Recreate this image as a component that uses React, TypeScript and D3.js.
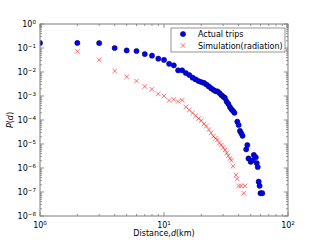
import React from "react";
import * as d3 from "d3";

const blueD = [1,2,3,4,5,6,7,8,9,10,11,12,13,14,15,16,17,18,19,20,21,22,23,24,25,26,27,28,29,30,31,32,33,34,35,36,37,39,40,41,42,43,46,47,48,50,52,53,55,56,57,58,59,60,62];
const blueP = [0.162,0.162,0.16,0.1,0.079,0.075,0.056,0.048,0.036,0.032,0.022,0.019,0.0117,0.0117,0.0091,0.0075,0.0058,0.0049,0.0042,0.0038,0.0035,0.003,0.0025,0.0021,0.0018,0.0016,0.00155,0.00133,0.0011,0.00095,0.00083,0.00059,0.00047,0.00035,0.00028,0.00024,0.0002,8.5e-5,6.2e-5,3.5e-5,2.8e-5,2.2e-5,6.0e-6,9.1e-6,2.5e-6,1.8e-6,2.1e-6,3.5e-6,2.8e-6,1.6e-6,1.1e-6,2.7e-7,1.8e-7,8.9e-8,8.9e-8];

const redD = [1,2,3,4,5,6,7,8,9,10,11,12,13,14,15,16,17,18,19,20,21,22,23,24,25,26,27,28,29,30,31,32,33,34,35,36,38,39,40,42,44,45];
const redP = [0.91,0.072,0.032,0.011,0.0063,0.0042,0.0025,0.0019,0.00123,0.001,0.00065,0.00072,0.00059,0.00066,0.00035,0.00026,0.000195,0.000148,0.000115,9.5e-5,6.8e-5,5.6e-5,4.0e-5,2.9e-5,2.1e-5,1.74e-5,1.48e-5,1.1e-5,9.1e-6,7.2e-6,5.6e-6,4.2e-6,3.3e-6,2.5e-6,2.1e-6,1.2e-6,5.1e-7,3.5e-7,1.8e-7,1.8e-7,8.9e-8,1.8e-7];

const xTickExps = [0, 1, 2];
const yTickExps = [0, -1, -2, -3, -4, -5, -6, -7, -8];
const seriesNames = ["Actual trips", "Simulation(radiation)"];

const L = 40, R = 288, T = 24, B = 216;
const FONT = "DejaVu Sans, sans-serif";

function sup(e: number) {
  return e < 0 ? "\u2212" + Math.abs(e) : String(e);
}

export default function App() {
  const x = d3.scaleLog().domain([1, 100]).range([L, R]);
  const y = d3.scaleLog().domain([1e-8, 1]).range([B, T]);

  const xMinor: number[] = [];
  for (let k = 0; k < 2; k++) for (let m = 2; m <= 9; m++) xMinor.push(m * Math.pow(10, k));
  const yMinor: number[] = [];
  for (let k = -8; k < 0; k++) for (let m = 2; m <= 9; m++) yMinor.push(m * Math.pow(10, k));

  const frame = "#7a7a7a";
  const cross = (cx: number, cy: number, s: number, key: any) => (
    <path key={key} d={`M${cx - s},${cy - s}L${cx + s},${cy + s}M${cx - s},${cy + s}L${cx + s},${cy - s}`}
      stroke="#ff0000" strokeOpacity={0.55} strokeWidth={1} fill="none" />
  );

  return (
    <svg width={320} height={240} style={{ position: "absolute", left: 0, top: 0, background: "#fff" }}
      fontFamily={FONT}>
      <defs>
        <clipPath id="ax">
          <rect x={L} y={T} width={R - L} height={B - T} />
        </clipPath>
      </defs>
      <rect x={0} y={0} width={320} height={240} fill="#fff" />
      <g clipPath="url(#ax)">
        {blueD.map((d, i) => (
          <circle key={"b" + i} cx={x(d)} cy={y(blueP[i])} r={2.6} fill="#0000ff" stroke="#000033" strokeWidth={0.5} />
        ))}
        {redD.map((d, i) => cross(x(d), y(redP[i]), 2.3, "r" + i))}
      </g>
      {/* ticks */}
      <g stroke={frame} strokeWidth={0.8}>
        {xTickExps.map((e) => {
          const px = x(Math.pow(10, e));
          return (
            <g key={"xt" + e}>
              <line x1={px} x2={px} y1={B} y2={B - 4} />
              <line x1={px} x2={px} y1={T} y2={T + 4} />
            </g>
          );
        })}
        {xMinor.map((v, i) => {
          const px = x(v);
          return (
            <g key={"xm" + i}>
              <line x1={px} x2={px} y1={B} y2={B - 2} />
              <line x1={px} x2={px} y1={T} y2={T + 2} />
            </g>
          );
        })}
        {yTickExps.map((e) => {
          const py = y(Math.pow(10, e));
          return (
            <g key={"yt" + e}>
              <line x1={L} x2={L + 4} y1={py} y2={py} />
              <line x1={R} x2={R - 4} y1={py} y2={py} />
            </g>
          );
        })}
        {yMinor.map((v, i) => {
          const py = y(v);
          return (
            <g key={"ym" + i}>
              <line x1={L} x2={L + 2} y1={py} y2={py} />
              <line x1={R} x2={R - 2} y1={py} y2={py} />
            </g>
          );
        })}
      </g>
      <rect x={L} y={T} width={R - L} height={B - T} fill="none" stroke={frame} strokeWidth={1} />
      {/* tick labels */}
      {xTickExps.map((e) => (
        <text key={"xl" + e} x={x(Math.pow(10, e))} y={B + 12} fontSize={8} textAnchor="middle" fill="#000">
          <tspan>10</tspan>
          <tspan dy={-3.5} fontSize={5.6}>{sup(e)}</tspan>
        </text>
      ))}
      {yTickExps.map((e) => (
        <text key={"yl" + e} x={L - 4} y={y(Math.pow(10, e)) + 3} fontSize={8} textAnchor="end" fill="#000">
          <tspan>10</tspan>
          <tspan dy={-3.5} fontSize={5.6}>{sup(e)}</tspan>
        </text>
      ))}
      {/* axis labels */}
      <text x={(L + R) / 2} y={236} fontSize={8} textAnchor="middle" fill="#000">
        Distance,<tspan fontStyle="italic">d</tspan>(km)
      </text>
      <text transform={`translate(13,${(T + B) / 2}) rotate(-90)`} fontSize={8} textAnchor="middle" fill="#000">
        <tspan fontStyle="italic">P</tspan>(<tspan fontStyle="italic">d</tspan>)
      </text>
      {/* legend */}
      <g>
        <rect x={171} y={28} width={114} height={24} fill="#fff" stroke={frame} strokeWidth={0.8} />
        <circle cx={183} cy={34} r={2.6} fill="#0000ff" stroke="#000033" strokeWidth={0.5} />
        <text x={198} y={37} fontSize={8} fill="#000">{seriesNames[0]}</text>
        {cross(183, 45.5, 2.3, "lg")}
        <text x={198} y={48.5} fontSize={8} fill="#000">{seriesNames[1]}</text>
      </g>
    </svg>
  );
}
